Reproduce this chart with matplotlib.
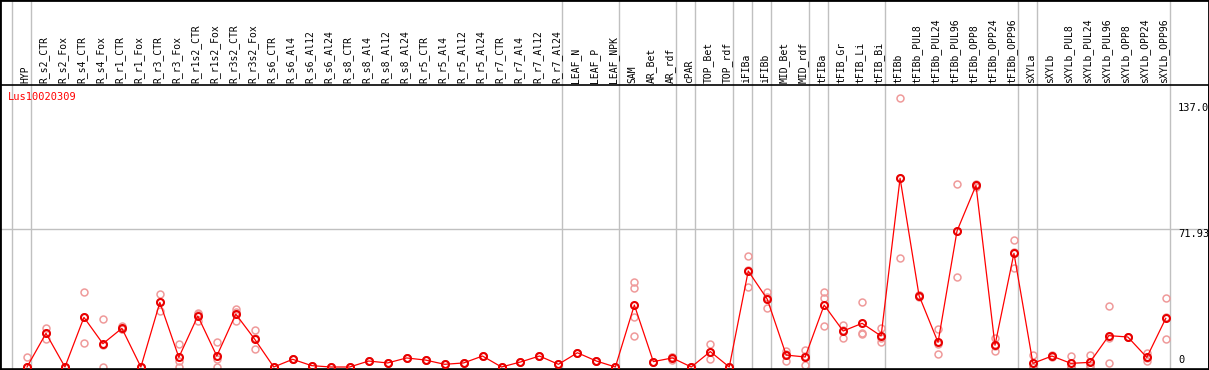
import numpy as np
import matplotlib
matplotlib.use("Agg")
import matplotlib.pyplot as plt
from matplotlib.patches import Rectangle

# Sample names (columns of the expression profile)
samples = [
    "HYP",
    "R_s2_CTR", "R_s2_Fox", "R_s4_CTR", "R_s4_Fox", "R_r1_CTR", "R_r1_Fox",
    "R_r3_CTR", "R_r3_Fox", "R_r1s2_CTR", "R_r1s2_Fox", "R_r3s2_CTR", "R_r3s2_Fox",
    "R_s6_CTR", "R_s6_Al4", "R_s6_Al12", "R_s6_Al24",
    "R_s8_CTR", "R_s8_Al4", "R_s8_Al12", "R_s8_Al24",
    "R_r5_CTR", "R_r5_Al4", "R_r5_Al12", "R_r5_Al24",
    "R_r7_CTR", "R_r7_Al4", "R_r7_Al12", "R_r7_Al24",
    "LEAF_N", "LEAF_P", "LEAF_NPK",
    "SAM", "AR_Bet", "AR_rdf", "cPAR", "TOP_Bet", "TOP_rdf",
    "iFIBa", "iFIBb", "MID_Bet", "MID_rdf",
    "tFIBa", "tFIB_Gr", "tFIB_Li", "tFIB_Bi",
    "tFIBb", "tFIBb_PUL8", "tFIBb_PUL24", "tFIBb_PUL96",
    "tFIBb_OPP8", "tFIBb_OPP24", "tFIBb_OPP96",
    "sXYLa", "sXYLb", "sXYLb_PUL8", "sXYLb_PUL24", "sXYLb_PUL96",
    "sXYLb_OPP8", "sXYLb_OPP24", "sXYLb_OPP96",
]

# sizes of the sample groups separated by grey lines
group_sizes = [1, 28, 3, 3, 1, 2, 1, 1, 2, 1, 3, 7, 1, 7]

# mean expression per sample
means = [0, 17.5, 0, 25.8, 12.1, 20.1, 0, 33.6, 5.0, 26.5, 5.7, 27.5, 14.4,
         0, 4.0, 0.7, 0, 0, 3.1, 2.1, 4.7, 3.6, 1.4, 2.1, 5.7, 0, 2.6, 5.7, 1.4,
         7.4, 3.1, 0,
         32.2, 2.8, 4.7, 0, 8.0, 0,
         49.9, 35.3, 6.2, 5.2,
         32.2, 18.7, 22.7, 16.1,
         98.1, 37.1, 12.8, 70.7, 94.4, 11.3, 59.1,
         1.9, 5.7, 1.9, 2.4, 16.3, 15.6, 5.0, 25.3]

# individual replicates
replicates = [
    [5.4, 0, 0], [20.4, 14.6, 17.5], [0, 0, 0], [38.8, 12.5, 26.0],
    [24.8, 0, 11.5], [21.3, 19.5, 19.5], [0, 0, 0], [37.8, 29.3, 33.6],
    [11.8, 0, 3.2], [28.2, 24.0, 27.3], [12.8, 0, 4.3], [30.1, 24.0, 28.4],
    [19.1, 9.2, 14.9],
    [0, 0, 0], [4.0, 4.0, 4.0], [0.7, 0.7, 0.7], [0, 0, 0],
    [0, 0, 0], [3.1, 3.1, 3.1], [2.1, 2.1, 2.1], [4.7, 4.7, 4.7],
    [3.6, 3.6, 3.6], [1.4, 1.4, 1.4], [2.1, 2.1, 2.1], [5.7, 5.7, 5.7],
    [0, 0, 0], [2.6, 2.6, 2.6], [5.7, 5.7, 5.7], [1.4, 1.4, 1.4],
    [7.4, 7.4, 7.4], [3.1, 3.1, 3.1], [0, 0, 0],
    [44.3, 40.9, 25.8, 16.3], [2.8, 2.8, 2.8], [5.4, 3.6, 5.1], [0, 0, 0],
    [12.0, 4.0, 8.0], [0, 0, 0],
    [57.7, 41.4, 50.6], [38.8, 30.8, 36.3], [8.5, 3.3, 6.8], [8.8, 1.2, 5.6],
    [38.8, 35.7, 21.5], [21.8, 15.2, 19.1], [33.6, 17.0, 17.5], [20.1, 13.2, 15.0],
    [139.7, 56.5, 98.1], [37.5, 36.5, 37.3], [19.6, 6.6, 12.2], [95.0, 46.6, 70.5],
    [94.4, 93.8, 95.0], [14.9, 8.3, 10.7], [65.8, 51.6, 59.9],
    [6.1, 0, 0], [6.2, 5.5, 5.4], [5.7, 0, 0], [6.2, 0, 1.0], [31.7, 1.9, 15.3],
    [15.6, 15.6, 15.6], [7.1, 3.3, 4.6], [35.7, 14.4, 25.8],
]

gene = "Lus10020309"
ytick_vals = [0, 71.93, 137.0]
ytick_labels = ["0", "71.93", "137.0"]

W, H = 1209, 370
x = np.arange(len(samples))
step = 18.98          # px per sample
x0 = 27.0             # px of first sample
xlim = (-x0 / step, (W - x0) / step)

mono = "DejaVu Sans Mono"
grey = "#c0c0c0"

fig = plt.figure(figsize=(W / 100, H / 100), dpi=100)

# full-figure overlay for labels and separator lines (pixel y coordinates)
bg = fig.add_axes([0, 0, 1, 1])
bg.set_xlim(xlim)
bg.set_ylim(H, 0)
bg.axis("off")

bounds = np.concatenate([[0], np.cumsum(group_sizes)]) - 1 + 4 / step
for b in bounds:
    bg.plot([b, b], [0, 368], color=grey, lw=1, zorder=1)

for i, name in enumerate(samples):
    bg.text(i - 0.1, 83, name, rotation=90, ha="center", va="bottom",
            family=mono, fontsize=7, color="black")

# data axes
top_px, bot_px = 85, 368.5
ax = fig.add_axes([0, (H - bot_px) / H, 1, (bot_px - top_px) / H])
ax.patch.set_alpha(0)
ax.set_xlim(xlim)
ppu = 1.924
ax.set_ylim(-(bot_px - 367) / ppu, (367 - top_px) / ppu)
ax.set_xticks([])
ax.set_yticks([])
for s in ax.spines.values():
    s.set_color("black")
    s.set_linewidth(1.2)

ax.axhline(ytick_vals[1], color=grey, lw=1, zorder=1)

for i, reps in enumerate(replicates):
    ax.plot([i] * len(reps), reps, "o", ms=5, mfc="none", mec="#ef9a9a",
            mew=1.1, zorder=2, clip_on=False)

ax.plot(x, means, "-", color="#ff0000", lw=0.9, zorder=3)
ax.plot(x, means, "o", ms=5, mfc="none", mec="#e80000", mew=1.5, zorder=4,
        clip_on=False)

xl = 1178 / W
for v, lab in zip(ytick_vals, ytick_labels):
    if v == 0:
        ax.text(xl, v + 1.2, lab, transform=ax.get_yaxis_transform(),
                ha="left", va="bottom", family=mono, fontsize=7.5)
    else:
        ax.text(xl, v, lab, transform=ax.get_yaxis_transform(),
                ha="left", va="top", family=mono, fontsize=7.5)

ax.text(8 / W, (bot_px - 97) / (bot_px - top_px), gene, transform=ax.transAxes,
        ha="left", va="center", family=mono, fontsize=7.5, color="#ff0000")

fig.patches.append(Rectangle((0, 0), 1, 1, transform=fig.transFigure,
                             fill=False, ec="black", lw=2))

fig.savefig("out.png", dpi=100)
